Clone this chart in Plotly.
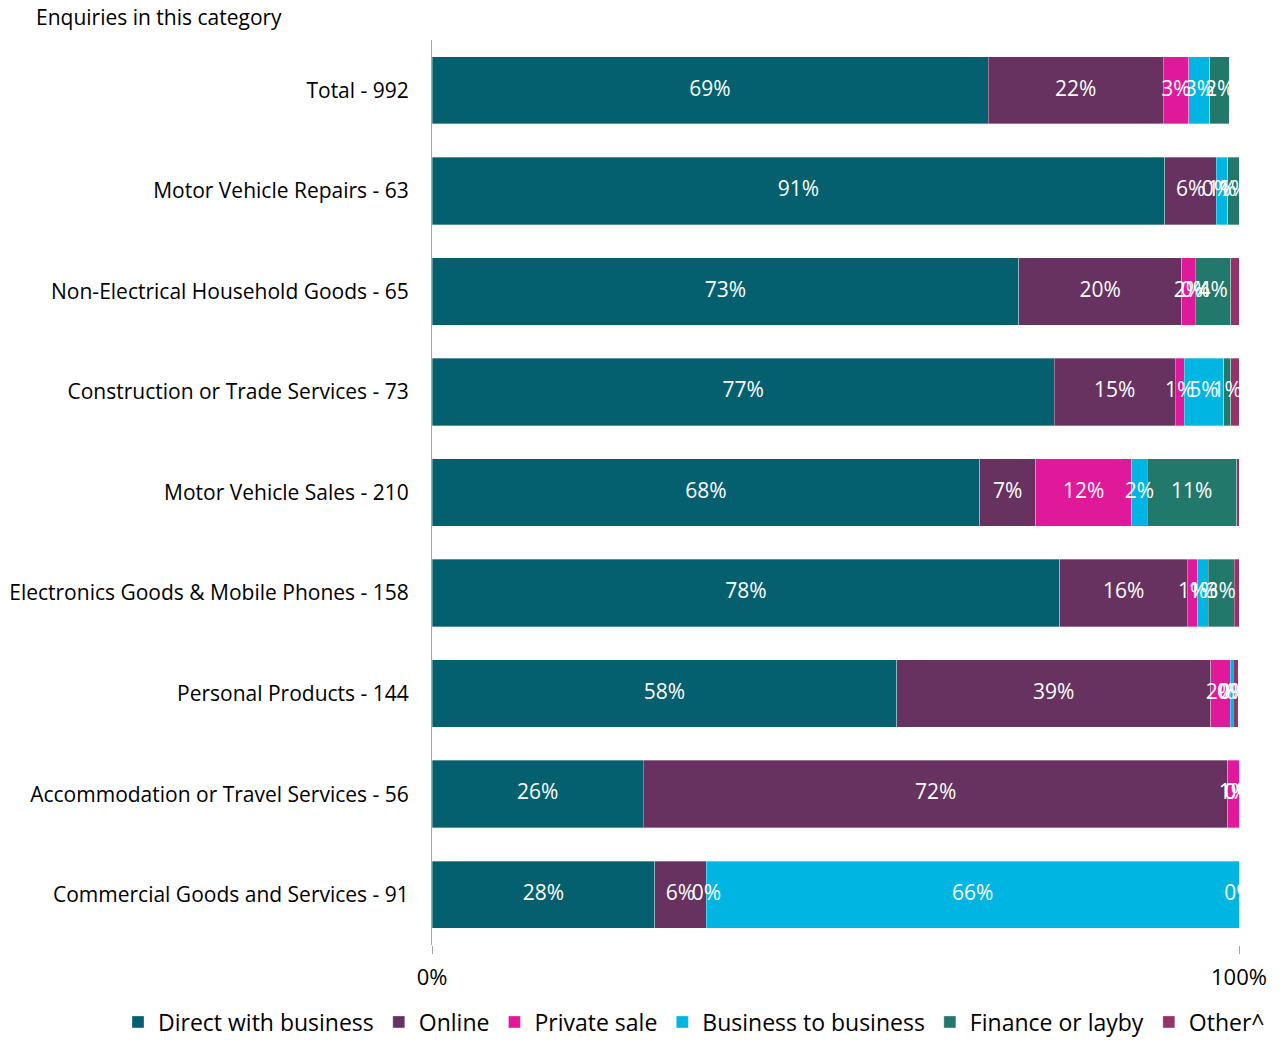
import plotly.graph_objects as go

categories = [
    "Total - 992",
    "Motor Vehicle Repairs - 63",
    "Non-Electrical Household Goods - 65",
    "Construction or Trade Services - 73",
    "Motor Vehicle Sales - 210",
    "Electronics Goods & Mobile Phones - 158",
    "Personal Products - 144",
    "Accommodation or Travel Services - 56",
    "Commercial Goods and Services - 91",
]

# shares in percent
direct_with_business = [68.9, 90.8, 72.7, 77.1, 67.9, 77.8, 57.6, 26.2, 27.6]
online = [21.7, 6.4, 20.2, 15.0, 6.9, 15.8, 38.9, 72.4, 6.4]
private_sale = [3.2, 0.0, 1.7, 1.1, 11.9, 1.3, 2.4, 1.4, 0.0]
business_to_business = [2.6, 1.4, 0.0, 4.9, 1.9, 1.3, 0.4, 0.0, 66.0]
finance_or_layby = [2.4, 1.4, 4.4, 0.9, 11.1, 3.2, 0.0, 0.0, 0.0]
other = [0.0, 0.0, 1.0, 1.0, 0.3, 0.6, 0.6, 0.0, 0.0]

series = [
    ("Direct with business", direct_with_business, "#04606F", True),
    ("Online", online, "#67325F", True),
    ("Private sale", private_sale, "#E0199A", True),
    ("Business to business", business_to_business, "#00B5E2", True),
    ("Finance or layby", finance_or_layby, "#22786A", True),
    ("Other^", other, "#963366", False),
]

FONT = "Open Sans"

fig = go.Figure()
for name, vals, color, labelled in series:
    fig.add_trace(go.Bar(
        name=name,
        y=categories,
        x=vals,
        orientation="h",
        marker=dict(color=color, line=dict(color="rgba(255,255,255,0.4)", width=0.8)),
        hoverinfo="x+y+name",
    ))

# data labels drawn on top of every bar (centred in each segment)
lab_x, lab_y, lab_t = [], [], []
base = [0.0] * len(categories)
for name, vals, color, labelled in series:
    for i, v in enumerate(vals):
        if labelled:
            lab_x.append(base[i] + v / 2)
            lab_y.append(categories[i])
            lab_t.append(f"{v:.0f}%")
        base[i] += v

fig.add_trace(go.Scatter(
    x=lab_x, y=lab_y, text=lab_t, mode="text",
    textposition="middle center",
    textfont=dict(color="white", size=21, family=FONT),
    showlegend=False, hoverinfo="skip", cliponaxis=True,
))

plot_top, plot_bottom = 40, 945
plot_h = plot_bottom - plot_top
plot_l, plot_w = 432, 807

fig.update_layout(
    barmode="stack",
    bargap=0.33,
    width=1280,
    height=1040,
    margin=dict(l=plot_l, r=1280 - plot_l - plot_w, t=plot_top, b=1040 - plot_bottom,
                autoexpand=False),
    plot_bgcolor="white",
    paper_bgcolor="white",
    font=dict(family=FONT, size=21, color="black"),
    title=dict(
        text="Enquiries in this category",
        x=36 / 1280, xanchor="left", xref="container",
        y=1 - 18 / 1040, yanchor="middle", yref="container",
        font=dict(size=21, family=FONT, color="black"),
    ),
    legend=dict(
        orientation="h",
        x=(118 - plot_l) / plot_w, xref="paper", xanchor="left",
        y=-(1022 - plot_bottom) / plot_h, yref="paper", yanchor="middle",
        font=dict(size=23, family=FONT),
        itemwidth=30,
        traceorder="normal",
    ),
    showlegend=True,
)

fig.update_xaxes(
    range=[0, 100],
    tickvals=[0, 100],
    ticktext=["0%", "100%"],
    showgrid=False,
    zeroline=False,
    showline=False,
    ticks="outside",
    ticklen=8,
    tickcolor="#A6A6A6",
    tickfont=dict(size=22, family=FONT),
    ticklabelstandoff=5,
    fixedrange=True,
)
fig.update_yaxes(
    categoryorder="array",
    categoryarray=categories[::-1],
    showline=True,
    linecolor="#A6A6A6",
    linewidth=1,
    showgrid=False,
    ticks="",
    tickfont=dict(size=21, family=FONT),
    ticklabelstandoff=18,
)

fig.write_html("out.html")
